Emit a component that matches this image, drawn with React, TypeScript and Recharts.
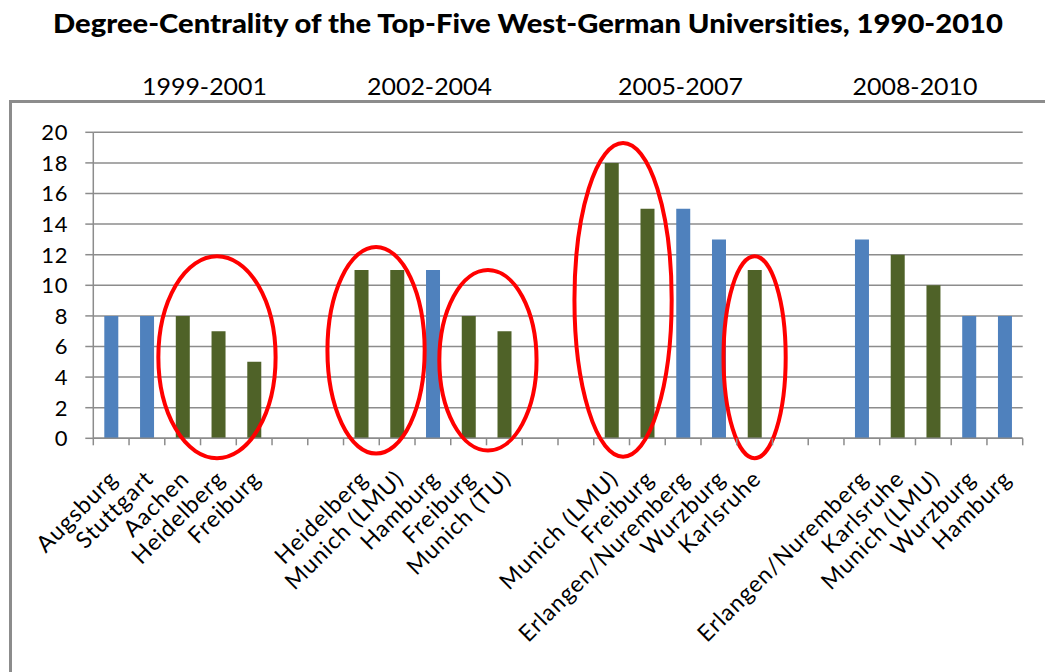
import { BarChart, Bar, Cell, XAxis, YAxis, CartesianGrid, ReferenceArea } from "recharts"

// one entry per x slot, empty names are the gaps between periods
const UNIVERSITIES = [
  "Augsburg", "Stuttgart", "Aachen", "Heidelberg", "Freiburg", "", "",
  "Heidelberg", "Munich (LMU)", "Hamburg", "Freiburg", "Munich (TU)", "", "",
  "Munich (LMU)", "Freiburg", "Erlangen/Nuremberg", "Wurzburg", "Karlsruhe", "", "",
  "Erlangen/Nuremberg", "Karlsruhe", "Munich (LMU)", "Wurzburg", "Hamburg",
]
const DEGREE = [
  8, 8, 8, 7, 5, null, null,
  11, 11, 11, 8, 7, null, null,
  18, 15, 15, 13, 11, null, null,
  13, 12, 10, 8, 8,
]
const EXCELLENCE = [
  false, false, true, true, true, false, false,
  true, true, false, true, true, false, false,
  true, true, false, false, true, false, false,
  false, true, true, false, false,
]
const PERIODS = ["1999-2001", "2002-2004", "2005-2007", "2008-2010"]
const Y_TICKS = [0, 2, 4, 6, 8, 10, 12, 14, 16, 18, 20]

// red circles: first / last slot and value range they enclose
const CIRCLE_FROM = [2, 7, 10, 14, 18]
const CIRCLE_TO = [4, 8, 11, 15, 18]
const CIRCLE_LOW = [-1.3, -1.0, -0.8, -1.2, -1.3]
const CIRCLE_HIGH = [11.9, 12.5, 11.0, 19.3, 11.9]

const TITLE = "Degree-Centrality of the Top-Five West-German Universities, 1990-2010"

// layout
const W = 1045
const H = 672
const MARGIN = { top: 132.3, right: 22.3, bottom: 33.7, left: 0 }
const Y_AXIS_W = 93.3
const X_AXIS_H = 200
const PLOT_LEFT = MARGIN.left + Y_AXIS_W
const PLOT_RIGHT = W - MARGIN.right
const BAND = (PLOT_RIGHT - PLOT_LEFT) / UNIVERSITIES.length
const PERIOD_X = [204.5, 429.5, 680.5, 915]
const CIRCLE_PAD = [[0.18, 0.1], [0.45, 0.27], [0.32, 0.4], [0.54, 0.18], [0.37, 0.37]]

const BLUE = "#4f81bd"
const GREEN = "#4f6228"
const GRAY = "#8c8c8c"
const FONT = "Lato, 'Open Sans', sans-serif"

const data = UNIVERSITIES.map((name, i) => ({ key: `u${i}`, name, degree: DEGREE[i] }))

function UniversityTick(props: any) {
  const { x, y, payload } = props
  const i = Number(String(payload.value).slice(1))
  const name = UNIVERSITIES[i]
  const tx = x + 8
  const ty = y + 42
  return (
    <g>
      <line x1={x - BAND / 2} x2={x - BAND / 2} y1={y} y2={y + 7} stroke={GRAY} strokeWidth={1.5} />
      {i === UNIVERSITIES.length - 1 && (
        <line x1={x + BAND / 2} x2={x + BAND / 2} y1={y} y2={y + 7} stroke={GRAY} strokeWidth={1.5} />
      )}
      {name && (
        <text
          x={tx}
          y={ty}
          transform={`rotate(-45 ${tx} ${ty})`}
          textAnchor="end"
          fontSize={23}
          fontFamily={FONT}
          letterSpacing={1}
          fill="#000"
        >
          {name}
        </text>
      )}
    </g>
  )
}

function circleShape(c: number) {
  return (p: any) => {
    const slots = CIRCLE_TO[c] - CIRCLE_FROM[c] + 1
    const band = p.width / slots
    const left = p.x - CIRCLE_PAD[c][0] * band
    const right = p.x + p.width + CIRCLE_PAD[c][1] * band
    return (
      <ellipse
        cx={(left + right) / 2}
        cy={p.y + p.height / 2}
        rx={(right - left) / 2}
        ry={Math.abs(p.height) / 2}
        fill="none"
        stroke="#ff0000"
        strokeWidth={4}
      />
    )
  }
}

export default function App() {
  return (
    <div style={{ position: "absolute", left: 0, top: 0, width: W, height: H, overflow: "hidden", background: "#fff" }}>
      <div
        style={{
          position: "absolute",
          left: 8.5,
          top: 100,
          width: 1200,
          height: 800,
          border: `3px solid ${GRAY}`,
        }}
      />
      <div style={{ position: "absolute", left: 0, top: 0 }}>
        <BarChart width={W} height={H} data={data} margin={MARGIN}>
          <CartesianGrid horizontal vertical={false} stroke={GRAY} strokeWidth={1.5} />
          <XAxis
            dataKey="key"
            height={X_AXIS_H}
            interval={0}
            tickSize={0}
            tickMargin={0}
            tickLine={false}
            axisLine={{ stroke: GRAY, strokeWidth: 1.5 }}
            tick={<UniversityTick />}
          />
          <YAxis
            width={Y_AXIS_W}
            domain={[0, 20]}
            ticks={Y_TICKS}
            interval={0}
            allowDataOverflow
            tickSize={8}
            tickMargin={17}
            tickLine={{ stroke: GRAY, strokeWidth: 1.5 }}
            axisLine={{ stroke: GRAY, strokeWidth: 1.5 }}
            tick={{ fontSize: 22, fill: "#000", fontFamily: FONT, letterSpacing: 0.8 }}
          />
          <Bar dataKey="degree" barSize={14} isAnimationActive={false}>
            {data.map((d, i) => (
              <Cell key={d.key} fill={EXCELLENCE[i] ? GREEN : BLUE} />
            ))}
          </Bar>
          {CIRCLE_FROM.map((from, c) => (
            <ReferenceArea
              key={c}
              x1={`u${from}`}
              x2={`u${CIRCLE_TO[c]}`}
              y1={CIRCLE_LOW[c]}
              y2={CIRCLE_HIGH[c]}
              ifOverflow="visible"
              zIndex={1500}
              shape={circleShape(c)}
            />
          ))}
        </BarChart>
      </div>
      <svg width={W} height={110} style={{ position: "absolute", left: 0, top: 0, pointerEvents: "none" }}>
        <text
          x={528}
          y={33.3}
          textAnchor="middle"
          fontFamily={FONT}
          fontWeight={900}
          fontSize={26}
          textLength={950}
          lengthAdjust="spacingAndGlyphs"
          style={{ fontVariantLigatures: "none" }}
          fill="#000"
        >
          {TITLE}
        </text>
        {PERIODS.map((p, i) => (
          <text
            key={p}
            x={PERIOD_X[i]}
            y={95}
            textAnchor="middle"
            fontFamily={FONT}
            fontSize={23}
            textLength={125}
            lengthAdjust="spacingAndGlyphs"
            fill="#000"
          >
            {p}
          </text>
        ))}
      </svg>
    </div>
  )
}
